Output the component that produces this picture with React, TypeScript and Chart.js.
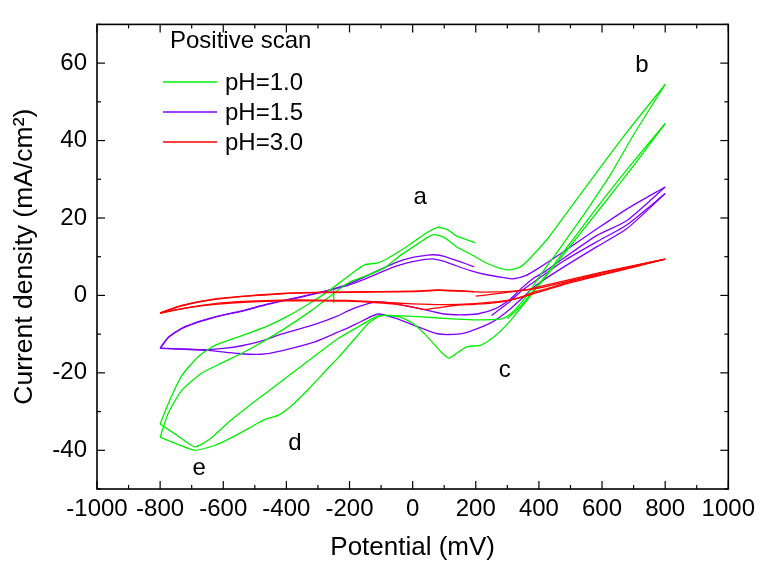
import React, { useEffect, useRef } from 'react';
import { Chart, registerables } from 'chart.js';

Chart.register(...registerables);

type Pt = [number, number];

// ---- axes ----
const X_MIN = -1000;
const X_MAX = 1000;
const X_STEP = 200;
const X_MINOR = 100;
const Y_MIN = -50;
const Y_MAX = 70;
const Y_TICKS = [-40, -20, 0, 20, 40, 60];
const Y_MINOR = 10;
const X_TITLE = 'Potential (mV)';
const Y_TITLE = 'Current density (mA/cm\u00B2)';

// ---- legend / labels ----
const LEGEND_TITLE = 'Positive scan';
const SERIES_LABELS = ['pH=1.0', 'pH=1.5', 'pH=3.0'];
const PEAK_LABELS = ['a', 'b', 'c', 'd', 'e'];
const PEAK_X = [24, 726, 292, -373, -676];
const PEAK_Y = [23.5, 57.6, -21.1, -39.9, -46.3];

// ---- pH = 1.0 (green) ----
const G_TICK: Pt[] = [[-250, -2], [-250, 1.5]];
const G_SCAN0: Pt[] = [[300, -6], [340, -3], [380, 1], [420, 5], [500, 13.6], [600, 24.4], [700, 34.6], [800, 44.4]];
const G_CATH1: Pt[] = [[800, 44.4], [700, 33.5], [600, 23.1], [500, 12.8], [426, 5.3], [394, 2], [352, -2.3], [310, -6.5], [258, -10.7], [215, -12.9], [173, -13.2], [145, -14.6], [116, -16.2], [90, -14.6], [47, -10.7], [0, -7.2], [-40, -5.6], [-101, -5.2], [-140, -7.2], [-174, -10.3], [-237, -16.2], [-268, -18.8], [-331, -24.3], [-384, -28.5], [-426, -31], [-468, -32], [-521, -34.4], [-580, -37], [-626, -38.7], [-690, -40], [-740, -38.6], [-800, -36.6]];
const G_ANOD1: Pt[] = [[-800, -36.6], [-773, -30.2], [-732, -24.6], [-669, -20.1], [-606, -17.5], [-521, -14.1], [-416, -9.1], [-322, -4], [-250, 0.5], [-227, 2], [-190, 3.8], [-152, 4.9], [-89, 7.1], [-38, 10.4], [20, 13.5], [47, 15], [68, 15.7], [100, 15], [140, 12.5], [183, 10.7], [230, 8.5], [270, 7.2], [305, 6.6], [340, 7.3], [372, 9.6], [426, 14.5], [478, 20.2], [573, 30.7], [680, 42.3], [800, 54.5]];
const G_CATH2: Pt[] = [[800, 54.5], [700, 41.5], [625, 31], [550, 21.8], [500, 16], [450, 10.3], [405, 5.3], [370, 1], [331, -3.1], [300, -5.4], [278, -6.1], [200, -6.3], [140, -6.1], [60, -5.7], [0, -5.4], [-60, -5.2], [-110, -5.3], [-174, -8.2], [-237, -11.2], [-300, -15], [-373, -19.5], [-450, -24.3], [-520, -28.6], [-580, -32.5], [-641, -37], [-690, -39.1], [-740, -36.5], [-800, -33.2]];
const G_ANOD2: Pt[] = [[-800, -33.2], [-773, -27.7], [-732, -20.8], [-678, -15.7], [-626, -12.9], [-552, -10.7], [-468, -8.2], [-394, -5.3], [-331, -2.3], [-260, 1.5], [-220, 4], [-184, 6.2], [-152, 7.9], [-110, 8.4], [-79, 9.6], [-26, 12.2], [20, 14.8], [47, 16.3], [79, 17.6], [110, 17], [140, 15.3], [170, 14.4], [198, 13.6]];

// ---- pH = 1.5 (violet) ----
const P_SCAN0: Pt[] = [[250, -5.2], [309, -1.5], [350, 1.5], [400, 4.4], [478, 8.9], [584, 13.9], [678, 18.2], [800, 26.3]];
const P_CATH1: Pt[] = [[800, 26.3], [678, 17.2], [584, 12.6], [478, 7.3], [394, 2.8], [350, -0.5], [309, -3.5], [260, -6.5], [205, -8.6], [160, -9.8], [116, -10.1], [79, -9.9], [30, -8.5], [0, -7.6], [-50, -6], [-110, -4.8], [-160, -6.6], [-205, -8.4], [-237, -9.5], [-310, -12], [-416, -14.3], [-480, -15.2], [-552, -15], [-647, -14.2], [-720, -13.9], [-800, -13.7]];
const P_ANOD1: Pt[] = [[-800, -13.7], [-785, -12], [-773, -10.8], [-732, -8.6], [-690, -7.2], [-647, -6.1], [-600, -5.1], [-552, -4.3], [-468, -2.5], [-416, -1.5], [-363, -0.6], [-310, 0.4], [-259, 1.4], [-205, 2.6], [-152, 4.2], [-100, 6], [-50, 7.6], [0, 8.7], [40, 9.3], [68, 9.4], [100, 8.8], [140, 7.6], [183, 6.4], [230, 5.4], [289, 4.6], [320, 4.3], [360, 5.2], [394, 6.8], [478, 11.3], [584, 17.2], [678, 22.3], [800, 28]];
const P_CATH2: Pt[] = [[800, 28], [678, 19.3], [584, 15.5], [478, 9.6], [420, 6.2], [384, 4.5], [340, 1.5], [309, -1], [260, -3.5], [205, -4.8], [150, -5], [100, -4.8], [0, -3], [-110, -1.6], [-160, -2.6], [-205, -4], [-237, -5.3], [-310, -7.5], [-416, -10], [-480, -11.8], [-542, -13], [-600, -13.7], [-647, -14], [-720, -13.9], [-800, -13.6]];
const P_ANOD2: Pt[] = [[-800, -13.6], [-785, -11.9], [-773, -10.7], [-732, -8.5], [-690, -7.1], [-647, -6], [-600, -5], [-552, -4.2], [-468, -2.4], [-416, -1.4], [-363, -0.5], [-310, 0.5], [-259, 1.5], [-205, 2.9], [-152, 4.8], [-100, 6.8], [-50, 8.6], [0, 9.8], [47, 10.4], [68, 10.5], [100, 10.1], [150, 8.7], [195, 7.4]];

// ---- pH = 3.0 (red) ----
const R_SCAN0: Pt[] = [[200, -0.2], [260, 0.4], [300, 0.8], [363, 1.5], [450, 3.2], [600, 6], [700, 7.7], [800, 9.4]];
const R_CATH1: Pt[] = [[800, 9.4], [700, 7.4], [600, 5.5], [500, 3.6], [420, 1.6], [394, 1.1], [340, -0.5], [300, -1.4], [250, -2], [195, -2.3], [130, -2.6], [79, -3.2], [40, -3.6], [0, -3], [-60, -2.2], [-110, -1.9], [-205, -1.5], [-300, -1.4], [-416, -1.4], [-521, -1.7], [-626, -2.3], [-700, -3], [-760, -3.9], [-800, -4.6]];
const R_ANOD1: Pt[] = [[-800, -4.6], [-760, -3.4], [-732, -2.7], [-680, -1.7], [-626, -1], [-521, -0.2], [-416, 0.4], [-310, 0.7], [-205, 0.8], [-100, 0.9], [0, 1], [79, 1.3], [150, 1.1], [195, 0.9], [260, 0.9], [320, 1.1], [394, 1.8], [500, 3.8], [600, 5.8], [700, 7.6], [800, 9.4]];
const R_CATH2: Pt[] = [[800, 9.4], [700, 7.3], [600, 5.3], [500, 3.3], [394, 0.7], [340, -0.6], [300, -1.3], [195, -2.1], [100, -2.4], [0, -2.2], [-110, -1.7], [-205, -1.3], [-300, -1.2], [-416, -1.2], [-521, -1.5], [-626, -2.1], [-732, -3.4], [-800, -4.5]];
const R_ANOD2: Pt[] = [[-800, -4.5], [-732, -2.6], [-626, -0.9], [-521, -0.1], [-416, 0.5], [-310, 0.8], [-205, 0.9], [-100, 1], [0, 1.1], [79, 1.4], [150, 1.2], [195, 1]];

const GREEN_SEGMENTS = [G_TICK, G_SCAN0, G_CATH1, G_ANOD1, G_CATH2, G_ANOD2];
const VIOLET_SEGMENTS = [P_SCAN0, P_CATH1, P_ANOD1, P_CATH2, P_ANOD2];
const RED_SEGMENTS = [R_SCAN0, R_CATH1, R_ANOD1, R_CATH2, R_ANOD2];

const COLORS = ['#00ee00', '#8000ff', '#ff0000'];
const FONT = "'Liberation Sans', Arial, sans-serif";

function buildDatasets() {
  const groups = [GREEN_SEGMENTS, VIOLET_SEGMENTS, RED_SEGMENTS];
  const drawOrder = [1, 2, 0];
  const out: any[] = [];
  groups.forEach((segs, gi) => {
    segs.forEach((seg, si) => {
      out.push({
        label: si === 0 ? SERIES_LABELS[gi] : '',
        data: seg.map(([x, y]) => ({ x, y })),
        showLine: true,
        borderColor: COLORS[gi],
        backgroundColor: COLORS[gi],
        borderWidth: 1.3,
        pointRadius: 0,
        pointHoverRadius: 0,
        tension: 0.2,
        fill: false,
        order: drawOrder[gi],
      });
    });
  });
  return out;
}

const decorPlugin = {
  id: 'decor',
  afterDraw(chart: any) {
    const { ctx, chartArea, scales } = chart;
    const { left, right, top, bottom } = chartArea;
    const xs = scales.x;
    const ys = scales.y;
    ctx.save();
    ctx.strokeStyle = '#000';
    ctx.lineWidth = 1.6;
    ctx.strokeRect(left, top, right - left, bottom - top);
    ctx.lineWidth = 1.2;
    const seg = (x1: number, y1: number, x2: number, y2: number) => {
      ctx.beginPath();
      ctx.moveTo(x1, y1);
      ctx.lineTo(x2, y2);
      ctx.stroke();
    };
    for (let v = X_MIN; v <= X_MAX; v += X_MINOR) {
      const px = xs.getPixelForValue(v);
      const len = Math.abs(v % X_STEP) < 1e-9 ? 8 : 4;
      seg(px, bottom, px, bottom - len);
      seg(px, top, px, top + len);
    }
    for (let v = Y_MIN; v <= Y_MAX; v += Y_MINOR) {
      const py = ys.getPixelForValue(v);
      const len = Y_TICKS.includes(v) ? 8 : 4;
      seg(left, py, left + len, py);
      seg(right, py, right - len, py);
    }

    // legend
    ctx.fillStyle = '#000';
    ctx.textBaseline = 'alphabetic';
    ctx.textAlign = 'left';
    ctx.font = `24px ${FONT}`;
    ctx.fillText(LEGEND_TITLE, 170, 47.5);
    SERIES_LABELS.forEach((lab, i) => {
      const yLine = 82 + i * 30;
      ctx.strokeStyle = COLORS[i];
      ctx.lineWidth = 1.3;
      seg(163, yLine, 217, yLine);
      ctx.fillStyle = '#000';
      ctx.fillText(lab, 225, yLine + 8);
    });

    // peak labels
    ctx.textAlign = 'center';
    ctx.font = `24px ${FONT}`;
    PEAK_LABELS.forEach((lab, i) => {
      ctx.fillText(lab, xs.getPixelForValue(PEAK_X[i]), ys.getPixelForValue(PEAK_Y[i]));
    });
    ctx.restore();
  },
};

export default function App() {
  const ref = useRef<HTMLCanvasElement | null>(null);
  useEffect(() => {
    document.body.style.margin = '0';
    if (!ref.current) return;
    const chart = new Chart(ref.current, {
      type: 'scatter',
      data: { datasets: buildDatasets() },
      options: {
        animation: false,
        responsive: false,
        devicePixelRatio: 1,
        layout: { padding: { top: 15, right: 29, left: 0, bottom: 0 } },
        plugins: { legend: { display: false }, tooltip: { enabled: false }, title: { display: false } },
        scales: {
          x: {
            type: 'linear',
            min: X_MIN,
            max: X_MAX,
            grid: { display: false, drawTicks: false },
            border: { display: false },
            ticks: {
              stepSize: X_STEP,
              autoSkip: false,
              color: '#000',
              font: { family: FONT, size: 24 },
              padding: 6,
              maxRotation: 0,
              callback: (v: any) => String(v),
            },
            title: { display: true, text: X_TITLE, color: '#000', font: { family: FONT, size: 26 }, padding: { top: 0, bottom: 2 } },
            afterFit: (s: any) => { s.height = 76; },
          },
          y: {
            type: 'linear',
            min: Y_MIN,
            max: Y_MAX,
            grid: { display: false, drawTicks: false },
            border: { display: false },
            afterBuildTicks: (s: any) => { s.ticks = Y_TICKS.map((v) => ({ value: v })); },
            ticks: { color: '#000', font: { family: FONT, size: 24 }, padding: 10, callback: (v: any) => String(v) },
            title: { display: true, text: Y_TITLE, color: '#000', font: { family: FONT, size: 26.5 }, padding: { top: 9, bottom: 0 } },
            afterFit: (s: any) => { s.width = 97; },
          },
        },
      },
      plugins: [decorPlugin],
    });
    return () => chart.destroy();
  }, []);
  return (
    <div style={{ width: 761, height: 565 }}>
      <canvas ref={ref} width={761} height={565} />
    </div>
  );
}
